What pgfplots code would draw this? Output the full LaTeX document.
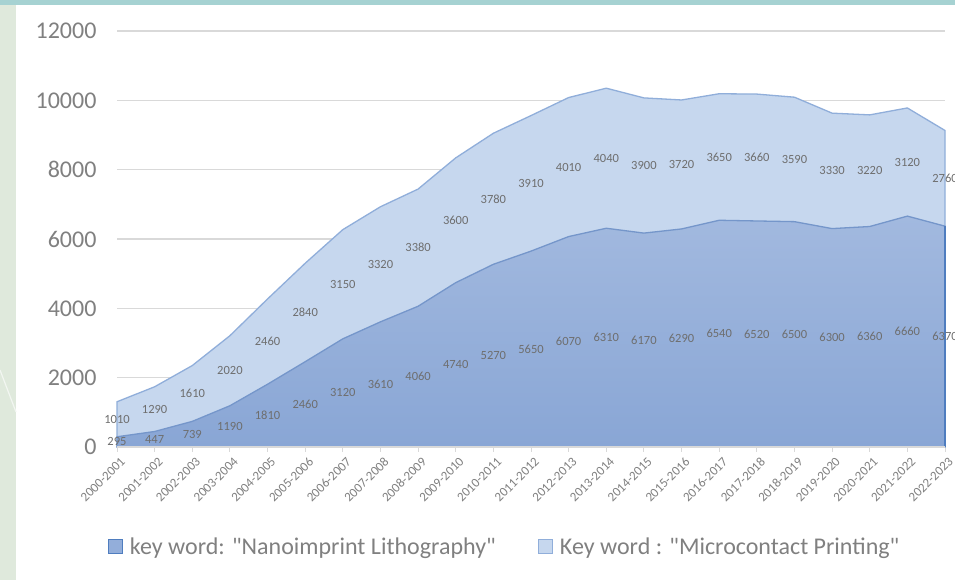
\documentclass[border=0pt]{standalone}
\usepackage{pgfplots}
\pgfplotsset{compat=1.18}
\usepackage{pgfplotstable}
\usepackage{fontspec}
\setmainfont{Carlito}

\definecolor{gridgray}{HTML}{D9D9D9}
\definecolor{tickgray}{HTML}{808080}
\definecolor{labelgray}{HTML}{6E6E6E}
\definecolor{nanofill}{HTML}{93AEDA}
\definecolor{nanotop}{HTML}{A2B9DF}
\definecolor{nanobot}{HTML}{89A6D5}
\definecolor{nanoedge}{HTML}{7596CA}
\definecolor{nanoside}{HTML}{4F7DBF}
\definecolor{microfill}{HTML}{C6D7EE}
\definecolor{microedge}{HTML}{90AEDA}
\definecolor{slidegreen}{HTML}{DFE9DC}
\definecolor{slideteal}{HTML}{A6D2D2}

% publications per academic year
\pgfplotstableread{
x  nano  micro
0  295   1010
1  447   1290
2  739   1610
3  1190  2020
4  1810  2460
5  2460  2840
6  3120  3150
7  3610  3320
8  4060  3380
9  4740  3600
10 5270  3780
11 5650  3910
12 6070  4010
13 6310  4040
14 6170  3900
15 6290  3720
16 6540  3650
17 6520  3660
18 6500  3590
19 6300  3330
20 6360  3220
21 6660  3120
22 6370  2760
}\data

\begin{document}
\begin{tikzpicture}[x=1pt,y=1pt]
\useasboundingbox (0,0) rectangle (955,580);
% slide background
\fill[slidegreen] (0,0) rectangle (955,580);
\fill[slideteal] (0,575) rectangle (955,580);
\fill[white] (16,0) rectangle (955,575);
\draw[white!60!slidegreen, line width=1.2pt] (0,210) -- (16,168);

\begin{axis}[
  at={(117pt,133pt)}, anchor=south west,
  scale only axis, width=828pt, height=416pt,
  xmin=0, xmax=22, ymin=0, ymax=12000,
  clip=false,
  axis x line*=bottom, axis y line*=left,
  x axis line style={draw=gridgray, line width=1.2pt, -},
  y axis line style={draw=none},
  xtick={0,...,22},
  xticklabels={2000-2001,2001-2002,2002-2003,2003-2004,2004-2005,2005-2006,2006-2007,2007-2008,2008-2009,2009-2010,2010-2011,2011-2012,2012-2013,2013-2014,2014-2015,2015-2016,2016-2017,2017-2018,2018-2019,2019-2020,2020-2021,2021-2022,2022-2023},
  xticklabel style={rotate=45, anchor=north east, font=\fontsize{13}{14}\selectfont, text=tickgray, inner sep=1pt, yshift=-4pt},
  x tick style={draw=gridgray, line width=1pt},
  tick align=outside,
  major tick length=5pt,
  ytick={0,2000,...,12000},
  scaled y ticks=false,
  y tick style={draw=none},
  yticklabel style={font=\fontsize{24}{24}\selectfont, text=tickgray, xshift=-12pt},
  /pgf/number format/assume math mode=true,
  /pgf/number format/1000 sep={},
  ymajorgrids,
  grid style={draw=gridgray, line width=1.2pt},
  legend columns=2,
  legend style={at={(0.468,-0.24)}, anchor=center, draw=none, fill=none,
    font=\fontsize{24}{24}\selectfont, text=tickgray,
    /tikz/every odd column/.append style={column sep=5pt},
    /tikz/every even column/.append style={column sep=40pt}},
  legend cell align=left,
]
% upper band: cumulative total
\addplot[draw=microedge, line width=1.3pt, fill=microfill, forget plot]
  table[x=x, y expr=\thisrow{nano}+\thisrow{micro}] {\data} \closedcycle;
% lower band
\addplot[draw=nanoedge, line width=1.3pt, top color=nanotop, bottom color=nanobot, forget plot]
  table[x=x, y=nano] {\data} \closedcycle;
\draw[nanoside, line width=1.5pt] (axis cs:22,0) -- (axis cs:22,6370);
\draw[gridgray, line width=1.2pt] (axis cs:0,0) -- (axis cs:22,0);

% value labels at the middle of each band
\addplot[draw=none, mark=none, forget plot, point meta=explicit symbolic,
  nodes near coords, nodes near coords align=center,
  every node near coord/.append style={font=\fontsize{12.5}{13}\selectfont, text=labelgray, inner sep=0pt}]
  table[x=x, y expr=\thisrow{nano}/2, meta=nano] {\data};
\addplot[draw=none, mark=none, forget plot, point meta=explicit symbolic,
  nodes near coords, nodes near coords align=center,
  every node near coord/.append style={font=\fontsize{12.5}{13}\selectfont, text=labelgray, inner sep=0pt}]
  table[x=x, y expr=\thisrow{nano}+\thisrow{micro}/2, meta=micro] {\data};

\addlegendimage{legend image code/.code={\draw[draw=nanoside, line width=1.2pt, fill=nanofill] (0pt,-7pt) rectangle (14pt,7pt);}}
\addlegendentry{key word: \textquotedbl Nanoimprint Lithography\textquotedbl}
\addlegendimage{legend image code/.code={\draw[draw=microedge, line width=1.2pt, fill=microfill] (0pt,-7pt) rectangle (14pt,7pt);}}
\addlegendentry{Key word : \textquotedbl Microcontact Printing\textquotedbl}
\end{axis}
\end{tikzpicture}
\end{document}
